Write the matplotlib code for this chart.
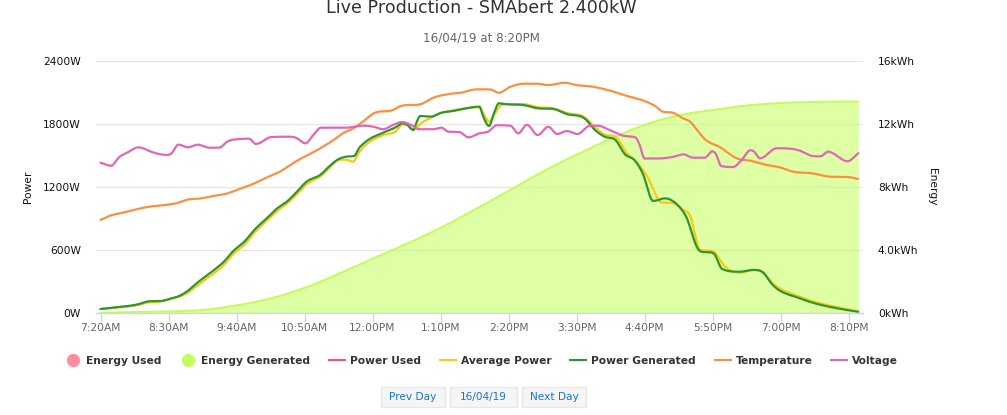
import numpy as np
import matplotlib
matplotlib.use("Agg")
import matplotlib.pyplot as plt
from matplotlib.lines import Line2D
from matplotlib.patches import Rectangle

W, H = 1007, 415
FONT = "DejaVu Sans"
plt.rcParams["font.family"] = FONT

# ---- data: minutes after 7:20AM, watts / kWh ----
tick_minutes = [0, 70, 140, 210, 280, 350, 420, 490, 560, 630, 700, 770]
tick_labels = ["7:20AM", "8:30AM", "9:40AM", "10:50AM", "12:00PM", "1:10PM",
               "2:20PM", "3:30PM", "4:40PM", "5:50PM", "7:00PM", "8:10PM"]
power_ticks = [0, 600, 1200, 1800, 2400]
power_labels = ["0W", "600W", "1200W", "1800W", "2400W"]
energy_ticks = [0, 4, 8, 12, 16]
energy_labels = ["0kWh", "4.0kWh", "8kWh", "12kWh", "16kWh"]

energy_t = [0, 70, 105, 140, 175, 210, 245, 280, 315, 350, 385, 420, 455, 490,
            525, 560, 595, 630, 665, 700, 735, 780]
energy_v = [0.01, 0.10, 0.19, 0.48, 0.92, 1.59, 2.48, 3.45, 4.38, 5.40, 6.55, 7.75,
            8.97, 10.05, 11.05, 11.94, 12.54, 12.89, 13.17, 13.33, 13.40, 13.43]

temp_t = [0, 9, 23, 37, 50, 64, 78, 91, 101, 116, 131, 143, 157, 170, 184, 201, 222,
          240, 250, 261, 270, 282, 301, 309, 330, 342, 359, 371, 387, 401, 410, 422,
          437, 449, 461, 478, 490, 507, 524, 542, 560, 571, 579, 589, 599, 607, 614,
          622, 638, 655, 669, 686, 699, 713, 733, 751, 769, 780]
temp_v = [886, 924, 955, 988, 1012, 1026, 1045, 1083, 1089, 1114, 1140, 1181, 1229,
          1286, 1343, 1443, 1546, 1648, 1714, 1762, 1822, 1905, 1933, 1971, 1990, 2048,
          2086, 2098, 2130, 2130, 2098, 2155, 2184, 2184, 2171, 2193, 2171, 2155, 2119,
          2067, 2019, 1971, 1917, 1908, 1857, 1822, 1743, 1657, 1578, 1473, 1450, 1410,
          1388, 1346, 1330, 1298, 1295, 1276]

volt_t = [0, 11, 19, 28, 39, 42, 52, 69, 73, 80, 90, 100, 112, 122, 131, 143, 153, 160,
          176, 193, 201, 211, 219, 227, 253, 270, 281, 291, 301, 310, 320, 328, 342, 351,
          358, 369, 379, 390, 399, 408, 422, 430, 439, 450, 461, 470, 480, 491, 504, 512,
          524, 538, 551, 555, 560, 571, 589, 600, 610, 622, 630, 633, 639, 651, 660, 669,
          672, 679, 696, 718, 733, 741, 749, 769, 780]
volt_v = [1431, 1403, 1483, 1530, 1578, 1574, 1536, 1505, 1521, 1603, 1578, 1603, 1574,
          1574, 1635, 1657, 1660, 1610, 1676, 1679, 1670, 1616, 1695, 1765, 1765, 1784,
          1774, 1750, 1790, 1819, 1790, 1750, 1750, 1765, 1727, 1724, 1673, 1711, 1727,
          1788, 1784, 1711, 1793, 1695, 1774, 1705, 1733, 1705, 1784, 1784, 1743, 1689,
          1670, 1600, 1471, 1471, 1486, 1511, 1479, 1479, 1540, 1521, 1400, 1390, 1457,
          1550, 1543, 1473, 1569, 1552, 1495, 1492, 1536, 1445, 1521]

gen_t = [0, 16, 40, 49, 62, 73, 81, 90, 98, 109, 117, 127, 137, 148, 160, 170, 181, 193,
         201, 212, 227, 235, 246, 253, 261, 266, 273, 291, 304, 311, 315, 322, 325, 329,
         340, 351, 363, 373, 390, 394, 400, 405, 410, 418, 435, 450, 466, 480, 499, 509,
         519, 530, 540, 550, 558, 569, 581, 593, 602, 617, 631, 640, 658, 672, 681, 692,
         720, 768, 780]
gen_v = [38, 54, 86, 111, 114, 140, 162, 212, 276, 355, 410, 489, 593, 679, 807, 892,
         990, 1070, 1143, 1250, 1321, 1393, 1470, 1489, 1495, 1569, 1631, 1717, 1769,
         1807, 1797, 1743, 1807, 1876, 1870, 1908, 1924, 1943, 1965, 1870, 1781, 1902,
         1997, 1988, 1981, 1950, 1943, 1895, 1848, 1743, 1679, 1648, 1511, 1453, 1333,
         1067, 1092, 1038, 933, 590, 569, 419, 393, 410, 393, 267, 140, 29, 12]

avg_t = [0, 16, 40, 49, 62, 73, 81, 90, 98, 109, 117, 127, 137, 148, 160, 170, 181, 193,
         201, 212, 227, 235, 246, 253, 260, 266, 273, 291, 304, 311, 315, 322, 329, 340,
         351, 363, 373, 390, 394, 400, 405, 410, 418, 435, 450, 466, 480, 499, 509, 519,
         530, 542, 553, 563, 578, 588, 599, 607, 617, 631, 643, 658, 672, 681, 692, 720,
         780]
avg_v = [38, 50, 80, 100, 110, 135, 155, 195, 250, 325, 380, 460, 565, 650, 780, 870,
         965, 1050, 1120, 1225, 1305, 1375, 1460, 1460, 1441, 1530, 1600, 1695, 1730,
         1795, 1795, 1745, 1800, 1860, 1905, 1930, 1945, 1960, 1900, 1822, 1880, 1960,
         1990, 1990, 1960, 1950, 1905, 1860, 1770, 1700, 1679, 1521, 1426, 1298, 1050,
         1050, 988, 924, 607, 584, 441, 384, 410, 393, 283, 155, 12]

power_used_t, power_used_v = [], []
energy_used_t, energy_used_v = [], []

C_GEN = "#c6fb5e"; C_USED = "#ff8f9f"; C_PUSED = "#ff4d6a"
C_AVG = "#fdc80f"; C_PGEN = "#2f962f"; C_TEMP = "#fd8f40"; C_VOLT = "#e365b8"


def smooth(t, v, n=12):
    """Cubic curve through the points, flat at local extremes (the chart's spline look)."""
    t = np.asarray(t, float); v = np.asarray(v, float)
    h = np.diff(t); d = np.diff(v) / h
    m = np.zeros_like(t); m[0], m[-1] = d[0], d[-1]
    for i in range(1, len(t) - 1):
        if d[i - 1] * d[i] > 0:
            c = (h[i] * d[i - 1] + h[i - 1] * d[i]) / (h[i - 1] + h[i])
            lim = 3 * min(abs(d[i - 1]), abs(d[i]))
            m[i] = np.sign(c) * min(abs(c), lim)
    xs, ys = [], []
    for i in range(len(h)):
        s = np.linspace(0, 1, n, endpoint=False)
        a = (2 * s**3 - 3 * s**2 + 1); b = (s**3 - 2 * s**2 + s)
        c = (-2 * s**3 + 3 * s**2); e = (s**3 - s**2)
        xs.append(t[i] + s * h[i])
        ys.append(a * v[i] + b * h[i] * m[i] + c * v[i + 1] + e * h[i] * m[i + 1])
    return np.r_[np.concatenate(xs), t[-1]], np.r_[np.concatenate(ys), v[-1]]


fig = plt.figure(figsize=(W / 100, H / 100), dpi=100, facecolor="white")
L, R, T, B = 96, 863, 61, 313
ax2 = fig.add_axes([L / W, 1 - B / H, (R - L) / W, (B - T) / H])
ax = fig.add_axes(ax2.get_position(), sharex=ax2)
ax.set_zorder(2); ax.patch.set_visible(False)

PX_PER_MIN = 68 / 70
ax.set_xlim(-(100.5 - L) / PX_PER_MIN, (R - 100.5) / PX_PER_MIN)
ax.set_ylim(0, 2400); ax2.set_ylim(0, 16)

# energy area (right axis)
ex, ey = smooth(energy_t, energy_v)
ax2.fill_between(ex, 0, ey, color="#c5ff5e", alpha=0.57, lw=0, zorder=2)
ax2.plot(ex, ey, color=C_GEN, lw=1.5, zorder=3)
ax2.plot(energy_used_t, energy_used_v, color=C_USED)

# line series (left axis)
ax.plot(power_used_t, power_used_v, color=C_PUSED)
for t_, v_, c_ in [(avg_t, avg_v, C_AVG), (gen_t, gen_v, C_PGEN),
                   (temp_t, temp_v, C_TEMP), (volt_t, volt_v, C_VOLT)]:
    sx, sy = smooth(t_, v_)
    ax.plot(sx, sy, color=c_, lw=1.6, solid_joinstyle="round", solid_capstyle="round")

# axes styling
for a in (ax, ax2):
    for s in a.spines.values():
        s.set_visible(False)
ax2.set_yticks(energy_ticks)
ax2.set_yticklabels(energy_labels)
ax2.yaxis.tick_right()
ax2.set_axisbelow(True)
ax2.grid(axis="y", color="#e6e6e6", lw=1)
ax2.grid(axis="x", visible=False)
ax2.tick_params(axis="y", length=0, pad=10.8, labelsize=7.7, labelcolor="#111111")
ax2.tick_params(axis="x", bottom=False, labelbottom=False)

ax.set_yticks(power_ticks)
ax.set_yticklabels(power_labels)
ax.tick_params(axis="y", length=0, pad=10.8, labelsize=7.7, labelcolor="#111111")
ax.set_xticks(tick_minutes)
ax.set_xticklabels(tick_labels)
ax.tick_params(axis="x", length=6.5, width=1, color="#ccd6eb", pad=0.5, labelsize=7.7,
               labelcolor="#666666")
ax.spines["bottom"].set_visible(True)
ax.spines["bottom"].set_color("#ccd6eb")
ax.spines["bottom"].set_linewidth(1)


def fx(x): return x / W
def fy(y): return 1 - y / H


fig.text(fx(481), fy(8), "Live Production - SMAbert 2.400kW", ha="center", va="center",
         fontsize=12.6, color="#333333")
fig.text(fx(481), fy(38), "16/04/19 at 8:20PM", ha="center", va="center",
         fontsize=8.6, color="#666666")
fig.text(fx(28), fy(187), "Power", rotation=90, ha="center", va="center",
         fontsize=7.7, color="#111111")
fig.text(fx(932), fy(187), "Energy", rotation=270, ha="center", va="center",
         fontsize=7.7, color="#111111")

# legend
names = ["Energy Used", "Energy Generated", "Power Used", "Average Power",
         "Power Generated", "Temperature", "Voltage"]
handles = [
    Line2D([], [], ls="none", marker="o", ms=8.5, mfc=C_USED, mec=C_USED),
    Line2D([], [], ls="none", marker="o", ms=8.5, mfc=C_GEN, mec=C_GEN),
    Line2D([], [], color=C_PUSED, lw=1.5),
    Line2D([], [], color=C_AVG, lw=1.5),
    Line2D([], [], color=C_PGEN, lw=1.5),
    Line2D([], [], color=C_TEMP, lw=1.5),
    Line2D([], [], color=C_VOLT, lw=1.5),
]
FS = 7.7
leg = fig.legend(handles, names, ncol=7, loc="center", bbox_to_anchor=(fx(481.5), fy(361)),
                 frameon=False, handlelength=11.5 / FS,
                 handletextpad=3.6 / FS, columnspacing=13.6 / FS, borderpad=0,
                 prop={"weight": "bold", "size": FS, "family": FONT})
for t_ in leg.get_texts():
    t_.set_color("#333333")

# date buttons
for x0, x1, lab in [(381, 445, "Prev Day"), (450, 516.5, "16/04/19"), (522, 586, "Next Day")]:
    fig.add_artist(Rectangle((fx(x0), fy(407)), (x1 - x0) / W, 20 / H,
                             transform=fig.transFigure, facecolor="#f5f5f5",
                             edgecolor="#e8e8e8", lw=1))
    fig.text(fx((x0 + x1) / 2), fy(397), lab, ha="center", va="center", fontsize=7.6,
             color="#1a75c9")

fig.savefig("out.png", dpi=100)
